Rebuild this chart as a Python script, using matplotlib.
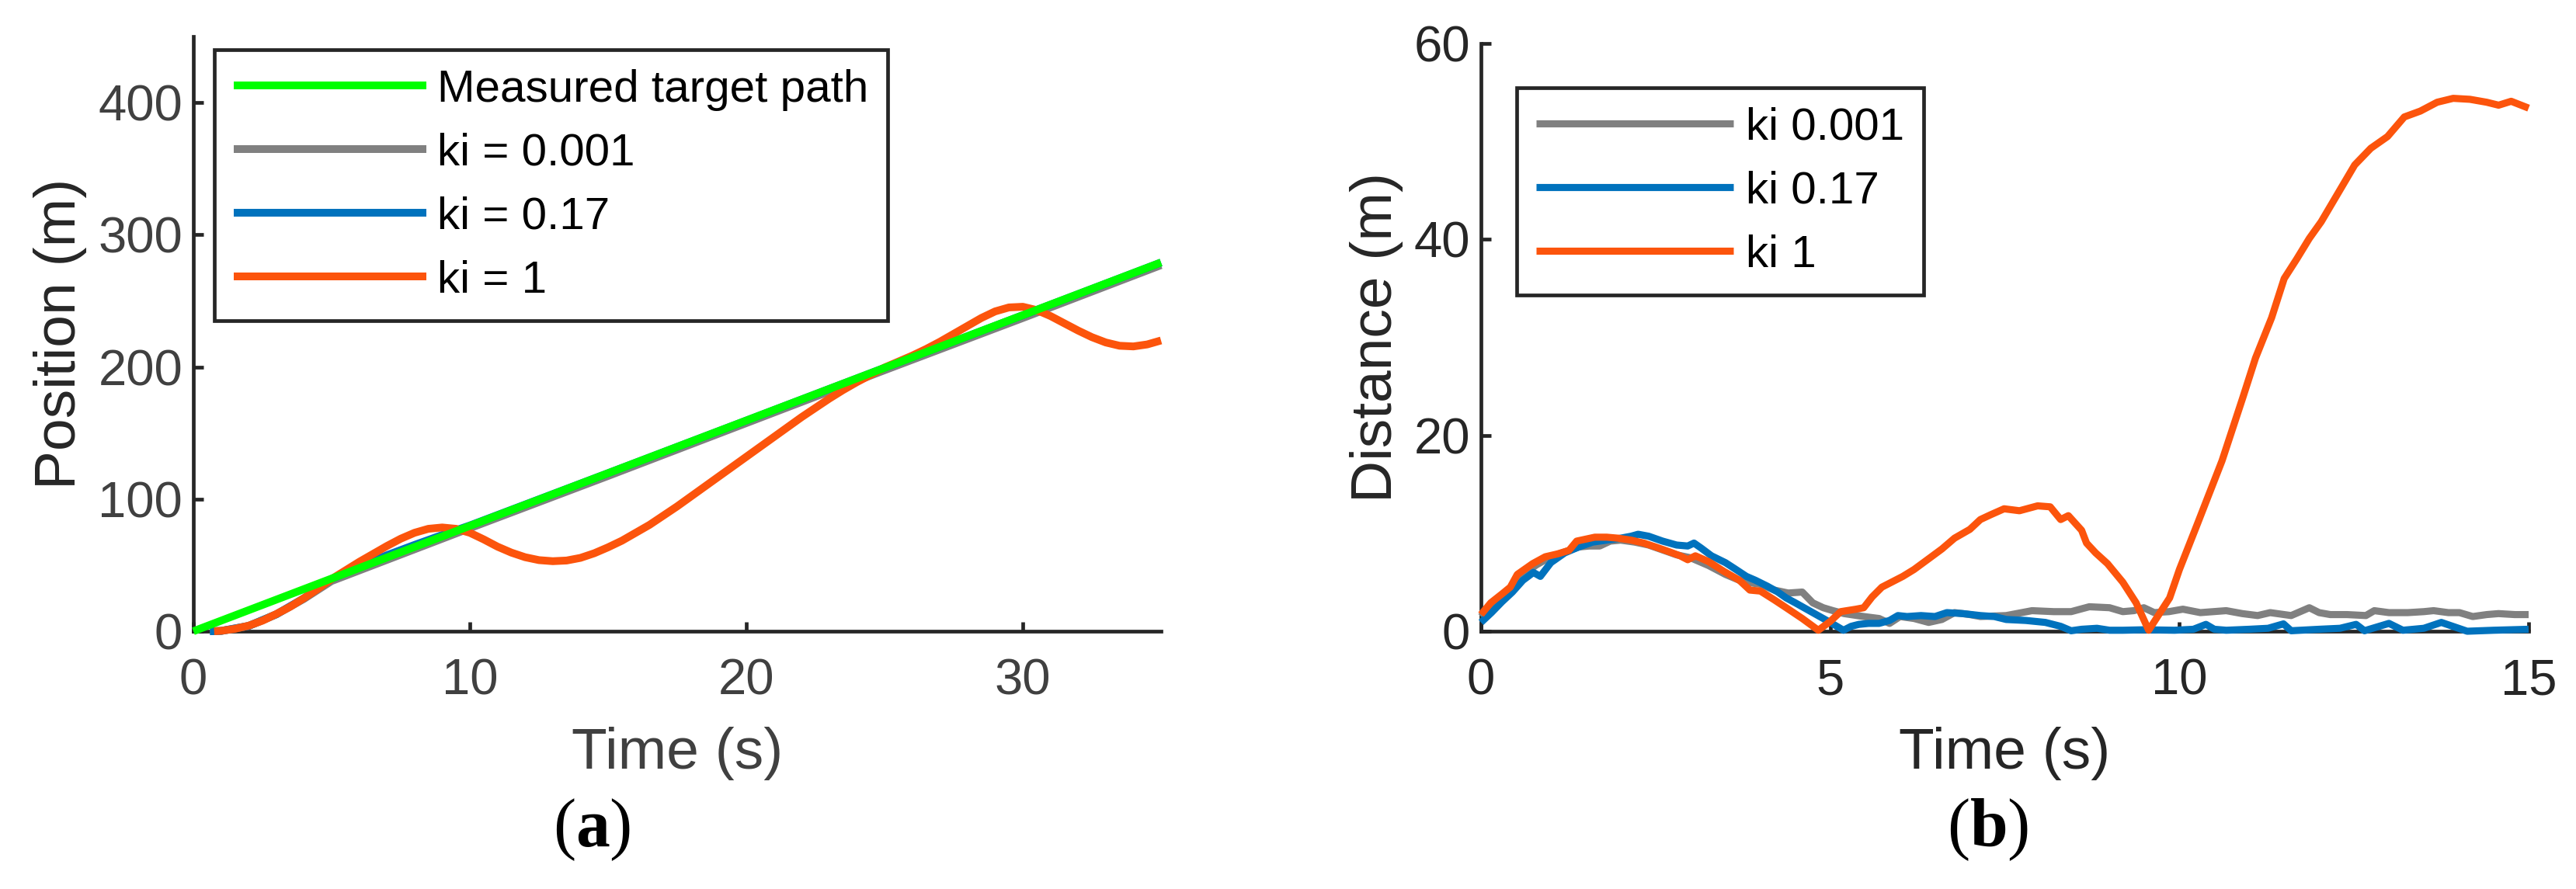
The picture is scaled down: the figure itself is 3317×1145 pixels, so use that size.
import matplotlib
matplotlib.use("Agg")
import matplotlib.pyplot as plt

plt.rcParams['font.family'] = ['Liberation Sans', 'DejaVu Sans']
plt.rcParams['mathtext.fontset'] = 'custom'
plt.rcParams['mathtext.rm'] = 'Liberation Serif'
plt.rcParams['mathtext.bf'] = 'Liberation Serif:bold'

# ---------------- Panel (a): position ----------------
t_target = [0, 35]
pos_target = [0, 279]

t_gray_a = [0.6, 1, 2, 3, 4, 5, 6, 7, 8, 9, 10, 15, 20, 25, 30, 35]
pos_gray_a = [0, 0.2, 4, 12.8, 24.5, 38, 46, 54, 62, 70, 78, 117.5, 157.5, 197.5, 237, 277]

t_blue_a = [0.6, 1, 2, 3, 4, 5, 6, 7, 8, 9, 10, 15, 20, 25, 30, 35]
pos_blue_a = [0, 0.2, 4, 12.8, 25, 39.5, 49, 57.5, 65.3, 72.8, 80, 119.6, 159.4, 199.3, 239.1, 279]

t_orange_a = [0.75, 1.0, 1.5, 2.0, 2.5, 3.0, 3.5, 4.0, 4.5, 5.0, 5.5, 6.0, 6.5, 7.0, 7.5,
              8.0, 8.5, 9.0, 9.5, 10.0, 10.5, 11.0, 11.5, 12.0, 12.5, 13.0, 13.5, 14.0,
              14.5, 15.0, 15.5, 16.0, 16.5, 17.0, 17.5, 18.0, 18.5, 19.0, 19.5, 20.0,
              20.5, 21.0, 21.5, 22.0, 22.5, 23.0, 23.5, 24.0, 24.5, 25.0, 25.5, 26.0,
              26.5, 27.0, 27.5, 28.0, 28.5, 29.0, 29.5, 30.0, 30.5, 31.0, 31.5, 32.0,
              32.5, 33.0, 33.5, 34.0, 34.5, 35.0]
pos_orange_a = [0, 0.3, 1.8, 4.2, 8, 13, 18.5, 25, 32, 39.5, 46, 52.5, 58.5, 64.5, 70,
                74.5, 77.5, 78.5, 77.5, 74.5, 69.5, 64, 59.5, 56, 53.8, 53, 53.5, 55.5,
                59, 63.5, 68.5, 74.5, 80.5, 87.5, 94.5, 102, 109.5, 117, 124.5, 132,
                139.5, 147, 154.5, 162, 169, 176, 182.5, 188.5, 194, 199.5, 204, 208.5,
                213.5, 219, 225, 231, 237, 242, 245, 245.5, 243, 238.5, 233, 227.5,
                222.5, 218.5, 216, 215.5, 217, 220]

labels_a = ['Measured target path', 'ki = 0.001', 'ki = 0.17', 'ki = 1']
xticks_a = [0, 10, 20, 30]
yticks_a = [0, 100, 200, 300, 400]

# ---------------- Panel (b): distance ----------------
t_gray_b = [0.0, 0.15, 0.3, 0.45, 0.6, 0.8, 1.0, 1.2, 1.4, 1.55, 1.7, 1.85, 2.0, 2.2, 2.4,
            2.6, 2.8, 3.0, 3.26, 3.5, 3.7, 3.9, 4.0, 4.2, 4.4, 4.6, 4.75, 4.9, 5.04, 5.2,
            5.48, 5.7, 5.85, 6.0, 6.2, 6.41, 6.6, 6.78, 7.0, 7.15, 7.52, 7.89, 8.2, 8.45,
            8.71, 9.0, 9.19, 9.35, 9.49, 9.64, 9.85, 10.05, 10.3, 10.67, 10.9, 11.12,
            11.3, 11.6, 11.86, 12.0, 12.16, 12.4, 12.67, 12.79, 13.0, 13.27, 13.5, 13.64,
            13.85, 14.01, 14.2, 14.4, 14.57, 14.8, 15.0]
d_gray_b = [1.5, 2.7, 3.6, 4.6, 5.8, 6.8, 7.6, 8.1, 8.6, 8.7, 8.7, 9.2, 9.3, 9.1, 8.8,
            8.3, 7.8, 7.5, 6.7, 5.8, 5.2, 4.9, 4.8, 4.2, 3.9, 4.0, 2.9, 2.4, 2.1, 1.8,
            1.5, 1.3, 0.8, 1.5, 1.3, 0.9, 1.2, 1.9, 1.7, 1.5, 1.6, 2.1, 2.0, 2.0,
            2.5, 2.4, 2.0, 2.1, 2.4, 1.9, 2.0, 2.25, 1.9, 2.1, 1.8, 1.6,
            1.9, 1.6, 2.4, 1.9, 1.7, 1.7, 1.6, 2.1, 1.9, 1.9, 2.0, 2.1,
            1.9, 1.9, 1.5, 1.7, 1.8, 1.7, 1.7]

t_blue_b = [0.0, 0.15, 0.3, 0.45, 0.6, 0.75, 0.85, 1.0, 1.2, 1.4, 1.6, 1.8, 2.0, 2.15, 2.25,
            2.4, 2.6, 2.8, 2.96, 3.05, 3.15, 3.3, 3.5, 3.63, 3.8, 3.93, 4.1, 4.25, 4.37,
            4.5, 4.75, 5.0, 5.19, 5.3, 5.41, 5.55, 5.7, 5.85, 5.97, 6.1, 6.3, 6.5, 6.67,
            6.9, 7.15, 7.35, 7.52, 7.8, 8.08, 8.3, 8.45, 8.6, 8.82, 9.0, 9.19, 9.5, 9.93,
            10.2, 10.38, 10.5, 10.67, 11.0, 11.27, 11.49, 11.6, 12.0, 12.3, 12.53, 12.65,
            13.0, 13.2, 13.5, 13.75, 14.12, 14.5, 15.0]
d_blue_b = [0.9, 1.9, 3.0, 4.0, 5.2, 6.0, 5.6, 7.0, 8.0, 8.6, 9.1, 9.3, 9.5, 9.7, 9.9,
            9.7, 9.2, 8.8, 8.7, 9.0, 8.5, 7.7, 7.0, 6.4, 5.6, 5.2, 4.6, 4.0, 3.4,
            2.9, 1.9, 0.9, 0.1, 0.5, 0.7, 0.8, 0.8, 1.1, 1.6, 1.5, 1.6, 1.5, 1.9,
            1.8, 1.6, 1.5, 1.2, 1.1, 0.9, 0.5, 0.05, 0.2, 0.3, 0.1, 0.1, 0.15, 0.1,
            0.2, 0.7, 0.2, 0.1, 0.2, 0.3, 0.75, 0.05, 0.2, 0.3, 0.7, 0.05,
            0.8, 0.1, 0.3, 0.9, 0.0, 0.1, 0.2]

t_orange_b = [0.0, 0.14, 0.3, 0.42, 0.52, 0.6, 0.74, 0.92, 1.1, 1.26, 1.37, 1.5, 1.63, 1.8,
              1.96, 2.15, 2.33, 2.5, 2.7, 2.85, 2.96, 3.07, 3.26, 3.48, 3.7, 3.85, 4.0,
              4.2, 4.37, 4.6, 4.83, 5.0, 5.15, 5.37, 5.48, 5.6, 5.74, 6.04, 6.2, 6.41,
              6.6, 6.78, 7.0, 7.15, 7.3, 7.49, 7.71, 7.97, 8.15, 8.3, 8.41, 8.6, 8.67,
              8.8, 8.97, 9.19, 9.38, 9.56, 9.86, 10.0, 10.26, 10.61, 10.91, 11.09, 11.32,
              11.5, 11.68, 11.86, 12.03, 12.27, 12.51, 12.74, 12.98, 13.22, 13.45, 13.69,
              13.92, 14.16, 14.4, 14.57, 14.75, 15.0]
d_orange_b = [1.7, 2.9, 3.8, 4.5, 5.8, 6.2, 6.9, 7.6, 7.9, 8.25, 9.2, 9.4, 9.6, 9.6,
              9.5, 9.3, 9.0, 8.6, 8.1, 7.7, 7.3, 7.7, 7.1, 6.1, 5.2, 4.2, 4.1,
              3.2, 2.4, 1.3, 0.1, 1.0, 2.0, 2.25, 2.4, 3.5, 4.5, 5.6, 6.3, 7.4,
              8.4, 9.5, 10.4, 11.4, 11.9, 12.5, 12.3, 12.8, 12.7, 11.4, 11.8, 10.3, 9.0,
              8.0, 6.9, 5.0, 2.9, 0.1, 3.4, 6.3, 11.0, 17.4, 23.9, 27.9, 32.0,
              36.0, 38.0, 40.1, 41.8, 44.7, 47.6, 49.3, 50.5, 52.5, 53.1, 54.0,
              54.4, 54.3, 54.0, 53.7, 54.1, 53.4]

labels_b = ['ki 0.001', 'ki 0.17', 'ki 1']
xticks_b = [0, 5, 10, 15]
yticks_b = [0, 20, 40, 60]

# ---------------- styling ----------------
W, H = 3317, 1145
GREEN = '#00FF00'
GRAY = '#808080'
BLUE = '#0072BD'
ORANGE = '#FC540C'
AX = '#262626'
TICKA = '#404040'

fig = plt.figure(figsize=(W / 100, H / 100), dpi=100)
ax1 = fig.add_axes([249 / W, 1 - 813 / H, (1495 - 249) / W, (813 - 47) / H])
ax2 = fig.add_axes([1907 / W, 1 - 813 / H, (3256 - 1907) / W, (813 - 56) / H])


def style(ax, tickcolor):
    for s in ['top', 'right']:
        ax.spines[s].set_visible(False)
    for s in ['left', 'bottom']:
        ax.spines[s].set_linewidth(3.4)
        ax.spines[s].set_color(AX)
    ax.tick_params(direction='in', length=9, width=3.4, color=AX,
                   labelsize=47, labelcolor=tickcolor)
    ax.tick_params(axis='x', pad=25)
    ax.tick_params(axis='y', pad=10)


lw_a = 7.2
kw = dict(solid_capstyle='butt', solid_joinstyle='round', clip_on=False)
l_gr, = ax1.plot(t_gray_a, pos_gray_a, color=GRAY, lw=lw_a, zorder=3, **kw)
l_bl, = ax1.plot(t_blue_a, pos_blue_a, color=BLUE, lw=lw_a, zorder=4, **kw)
l_or, = ax1.plot(t_orange_a, pos_orange_a, color=ORANGE, lw=lw_a, zorder=5, **kw)
l_tg, = ax1.plot(t_target, pos_target, color=GREEN, lw=lw_a, zorder=6, **kw)
ax1.set_xlim(0, 35)
ax1.set_ylim(0, 450)
ax1.set_xticks(xticks_a)
ax1.set_yticks(yticks_a)
style(ax1, TICKA)
ax1.set_xlabel('Time (s)', fontsize=54, color=TICKA)
ax1.set_ylabel('Position (m)', fontsize=54, color=AX)
ax1.xaxis.label.set_va('baseline')
ax1.yaxis.label.set_va('baseline')
ax1.xaxis.set_label_coords(0.5, (813 - 990) / 766)
ax1.yaxis.set_label_coords((97 - 249) / 1246, 0.5)

leg_kw = dict(loc='upper left', bbox_transform=fig.transFigure, borderaxespad=0,
              borderpad=0.42, labelspacing=0.48, fontsize=42, fancybox=False,
              framealpha=1, edgecolor=AX)
leg1 = ax1.legend([l_tg, l_gr, l_bl, l_or], labels_a,
                  bbox_to_anchor=(276.3 / W, 1 - 64.3 / H),
                  handlelength=4.25, handletextpad=0.25, **leg_kw)
leg1.get_frame().set_linewidth(3.4)
for h in leg1.get_lines():
    h.set_linewidth(lw_a)
    h.set_solid_capstyle('butt')

lw_b = 6.6
g_gr, = ax2.plot(t_gray_b, d_gray_b, color=GRAY, lw=lw_b, zorder=3, **kw)
g_bl, = ax2.plot(t_blue_b, d_blue_b, color=BLUE, lw=lw_b, zorder=4, **kw)
g_or, = ax2.plot(t_orange_b, d_orange_b, color=ORANGE, lw=lw_b, zorder=5, **kw)
ax2.set_xlim(0, 15)
ax2.set_ylim(0, 60)
ax2.set_xticks(xticks_b)
ax2.set_yticks(yticks_b)
style(ax2, AX)
ax2.set_xlabel('Time (s)', fontsize=54, color=AX)
ax2.set_ylabel('Distance (m)', fontsize=54, color=AX)
ax2.xaxis.label.set_va('baseline')
ax2.yaxis.label.set_va('baseline')
ax2.xaxis.set_label_coords(0.5, (813 - 990) / 757)
ax2.yaxis.set_label_coords((1792 - 1907) / 1349, 0.5)

leg2 = ax2.legend([g_gr, g_bl, g_or], labels_b,
                  bbox_to_anchor=(1953.3 / W, 1 - 113.3 / H),
                  handlelength=4.35, handletextpad=0.28, **leg_kw)
leg2.get_frame().set_linewidth(3.4)
for h in leg2.get_lines():
    h.set_linewidth(lw_b)
    h.set_solid_capstyle('butt')

fig.text(762 / W, 1 - 1090 / H, r'($\mathbf{a}$)', ha='center', va='baseline',
         fontsize=63, family='Liberation Serif', color='black')
fig.text(2560 / W, 1 - 1090 / H, r'($\mathbf{b}$)', ha='center', va='baseline',
         fontsize=63, family='Liberation Serif', color='black')

fig.savefig('out.png', dpi=100)
